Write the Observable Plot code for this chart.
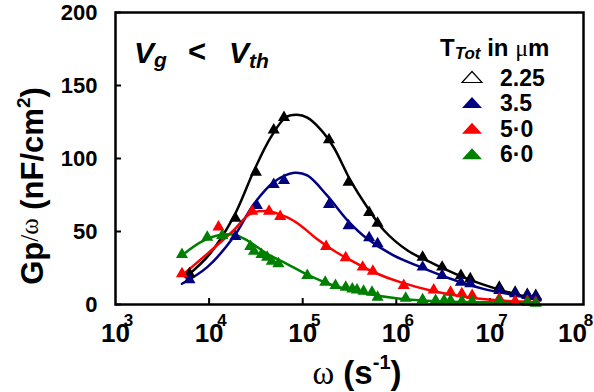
<!DOCTYPE html>
<html><head><meta charset="utf-8">
<script src="https://cdn.jsdelivr.net/npm/d3@7"></script>
<script src="https://cdn.jsdelivr.net/npm/@observablehq/plot@0.6"></script>
<style>body{margin:0;background:#fff} svg{display:block}</style>
</head><body><div id="chart"></div>
<script>
// Series (total thickness in µm)
const seriesNames = ["2.25", "3.5", "5·0", "6·0"];
const seriesColors = ["#000000", "#000080", "#ff0000", "#008000"];

// Markers: ω (s^-1) and Gp/ω (nF/cm²)
const blackW = [6.17e3,1.91e4,3.16e4,4.90e4,6.31e4,1.91e5,3.09e5,5.13e5,6.31e5,1.91e6,3.09e6,4.90e6,6.17e6,1.26e7,1.86e7,2.51e7,3.09e7];
const blackG = [21,59,90.6,119.6,128,112.8,83.8,63,55.7,32.4,25.6,19.9,17.6,11.9,8.4,6.8,6.2];
const blueW = [6.17e3,1.91e4,3.24e4,4.90e4,6.31e4,1.91e5,3.09e5,5.13e5,6.31e5,1.91e6,3.09e6,4.90e6,6.17e6,1.26e7,1.86e7,2.51e7,3.09e7];
const blueG = [16.9,46.6,67.8,82.2,85,68.5,54,45.7,41.6,25.6,19.9,15.3,14.2,9.6,7.3,6.2,5.5];
const redW = [5.13e3,1.26e4,2.88e4,4.37e4,5.75e4,1.78e5,2.88e5,4.37e5,5.62e5,1.20e6,2.51e6,3.80e6,5.01e6,6.46e6,1.26e7,1.86e7,2.51e7,3.09e7];
const redG = [21,53,63.9,63.9,60.3,39.7,32,25.6,22.8,13,10,8.4,7.3,6.2,3.9,2.3,2.3,1.6];
const greenW = [5.13e3,9.55e3,1.38e4,2.75e4,3.02e4,3.63e4,4.17e4,4.68e4,5.50e4,1.12e5,1.74e5,2.24e5,2.88e5,3.39e5,3.80e5,4.47e5,5.50e5,6.31e5,1.26e6,1.91e6,2.63e6,3.24e6,3.80e6,5.01e6,6.46e6,1.26e7,2.51e7,3.09e7];
const greenG = [34.2,46,47.3,39.7,36.5,34.2,32.4,29.7,27.9,19.9,15.3,13,11.9,10.7,10,9.1,8.4,5,4.3,3.2,2.7,2.7,2.7,2.3,2.3,2.3,1.6,0.9];

// Fitted curves
const blackFitW = [5.62e3,1.02e4,1.82e4,3.02e4,4.57e4,6.61e4,8.71e4,1.12e5,1.55e5,2.14e5,3.24e5,4.90e5,7.41e5,1.32e6,2.51e6,5.75e6,1.29e7,2.14e7,3.47e7];
const blackFitG = [18.7,34.7,59.8,91.8,114.6,128.3,130,128,120,107.7,85,66.6,50.7,37,27.9,17.6,10,6.2,3.5];
const blueFitW = [5.13e3,9.55e3,1.82e4,3.02e4,4.90e4,8.13e4,1.12e5,1.82e5,3.02e5,4.90e5,9.33e5,1.82e6,3.80e6,8.51e6,1.91e7,3.47e7];
const blueFitG = [14.2,25.6,46,69,83.8,90.2,88.4,74.7,57.5,45,33.6,25.6,17.6,10.7,6.2,2.7];
const redFitW = [5.13e3,9.55e3,1.82e4,2.75e4,4.17e4,6.76e4,9.55e4,1.41e5,2.14e5,3.55e5,5.75e5,1.10e6,2.51e6,5.75e6,1.29e7,2.95e7];
const redFitG = [19.9,34.7,50.7,62.1,63.9,59.8,54,45,37,29,22.1,15.3,9.1,5,2.7,1.6];
const greenFitW = [5.13e3,8.13e3,1.23e4,1.82e4,2.57e4,4.17e4,6.76e4,1.12e5,2.14e5,4.90e5,1.10e6,2.51e6,8.51e6,2.95e7];
const greenFitG = [33.6,42.7,47.3,47.9,43.8,34.7,27.9,20.5,13,7.3,3.9,2.3,1.6,0.9];

// Axis ticks
const xTickValues = [1e3, 1e4, 1e5, 1e6, 1e7, 1e8];
const xTickBase = ["10", "10", "10", "10", "10", "10"];
const xTickExp = ["3", "4", "5", "6", "7", "8"];
const yTickValues = [0, 50, 100, 150, 200];

const markerW = [blackW, blueW, redW, greenW];
const markerG = [blackG, blueG, redG, greenG];
const fitW = [blackFitW, blueFitW, redFitW, greenFitW];
const fitG = [blackFitG, blueFitG, redFitG, greenFitG];

const markers = seriesNames.flatMap((s, i) => markerW[i].map((w, j) => ({s, w, g: markerG[i][j]})));
const fits = seriesNames.flatMap((s, i) => fitW[i].map((w, j) => ({s, w, g: fitG[i][j]})));
const xTicks = xTickValues.map((v, i) => ({v, base: xTickBase[i], exp: xTickExp[i]}));
const xTicksInner = xTicks.slice(0, -1);
const xTicksLast = xTicks.slice(-1);

const sans = "'Liberation Sans', Arial, Helvetica, sans-serif";
const serif = "'Liberation Serif', 'Times New Roman', serif";

const plot = Plot.plot({
  width: 594, height: 392,
  marginLeft: 115, marginRight: 11, marginTop: 12, marginBottom: 88,
  x: {type: "log", domain: [1e3, 1e8]},
  y: {domain: [0, 200]},
  color: {domain: seriesNames, range: seriesColors},
  style: {fontFamily: sans, background: "white", color: "black"},
  marks: [
    Plot.axisY(yTickValues, {tickSize: -6, tickPadding: 24, strokeWidth: 2, fontSize: 22, fontWeight: "bold", label: null}),
    Plot.axisX(xTickValues.slice(1, -1), {tickSize: -6, strokeWidth: 2, tickFormat: () => "", label: null}),
    Plot.text(xTicksInner, {x: "v", text: "base", frameAnchor: "bottom", dy: 37, fontSize: 26, fontWeight: "bold"}),
    Plot.text(xTicksInner, {x: "v", text: "exp", frameAnchor: "bottom", dy: 21, dx: 13, fontSize: 17, fontWeight: "bold"}),
    Plot.text(xTicksLast, {x: "v", text: "base", frameAnchor: "bottom", dy: 37, dx: -11, fontSize: 26, fontWeight: "bold"}),
    Plot.text(xTicksLast, {x: "v", text: "exp", frameAnchor: "bottom", dy: 21, dx: 5, fontSize: 17, fontWeight: "bold"}),
    Plot.line(fits, {x: "w", y: "g", z: "s", stroke: "s", strokeWidth: 2.5, curve: "catmull-rom"}),
    Plot.dot(markers, {x: "w", y: "g", fill: "s", symbol: "triangle", r: 4.5}),
    Plot.frame({stroke: "black", strokeWidth: 2.5})
  ]
});
document.getElementById("chart").appendChild(plot);

const svg = d3.select(plot);

// Y axis title
const yt = svg.append("text")
  .attr("transform", "translate(43,186) rotate(-90)")
  .attr("text-anchor", "middle")
  .attr("font-family", sans).attr("font-weight", "bold").attr("font-size", 31).attr("fill", "black");
yt.append("tspan").text("Gp");
yt.append("tspan").attr("font-size", 25).attr("font-weight", "normal").attr("font-family", serif).attr("dy", -5).text("/ω");
yt.append("tspan").attr("dy", 5).text(" (nF/cm");
yt.append("tspan").attr("font-size", 19).attr("dy", -13).text("2");
yt.append("tspan").attr("dy", 13).text(")");

// X axis title
const xt = svg.append("text")
  .attr("x", 357).attr("y", 384)
  .attr("text-anchor", "middle")
  .attr("font-family", sans).attr("font-weight", "bold").attr("font-size", 33).attr("fill", "black");
xt.append("tspan").attr("font-family", serif).attr("font-weight", "normal").text("ω");
xt.append("tspan").text(" (s");
xt.append("tspan").attr("font-size", 20).attr("dy", -15).text("-1");
xt.append("tspan").attr("dy", 15).text(")");

// Condition annotation
const cond = svg.append("g").attr("font-family", sans).attr("font-weight", "bold").attr("fill", "black").attr("text-anchor", "start");
const c1 = cond.append("text").attr("x", 134).attr("y", 63).attr("font-size", 30).attr("font-style", "italic");
c1.append("tspan").text("V");
c1.append("tspan").attr("font-size", 21).attr("dy", 4).text("g");
cond.append("text").attr("x", 188).attr("y", 62).attr("font-size", 31).text("<");
const c2 = cond.append("text").attr("x", 229).attr("y", 63).attr("font-size", 30).attr("font-style", "italic");
c2.append("tspan").text("V");
c2.append("tspan").attr("font-size", 21).attr("dy", 5).text("th");

// Legend
const lg = svg.append("g").attr("font-family", sans).attr("font-weight", "bold").attr("fill", "black").attr("text-anchor", "start");
const lt = lg.append("text").attr("x", 440).attr("y", 56).attr("font-size", 24);
lt.append("tspan").text("T");
lt.append("tspan").attr("font-size", 17).attr("font-style", "italic").attr("dy", 3).text("Tot");
lt.append("tspan").attr("dy", -3).text(" in ");
lt.append("tspan").attr("font-family", serif).attr("font-weight", "normal").text("μ");
lt.append("tspan").text("m");
seriesNames.forEach((name, i) => {
  const cy = 77 + i * 25.6;
  lg.append("path")
    .attr("d", `M462,${cy + 5.5}L482,${cy + 5.5}L472,${cy - 5.5}Z`)
    .attr("fill", i === 0 ? "white" : seriesColors[i])
    .attr("stroke", i === 0 ? "black" : "none").attr("stroke-width", 1.2);
  lg.append("text").attr("x", 500).attr("y", cy + 8.5).attr("font-size", 23).text(name);
});
</script>
</body></html>
